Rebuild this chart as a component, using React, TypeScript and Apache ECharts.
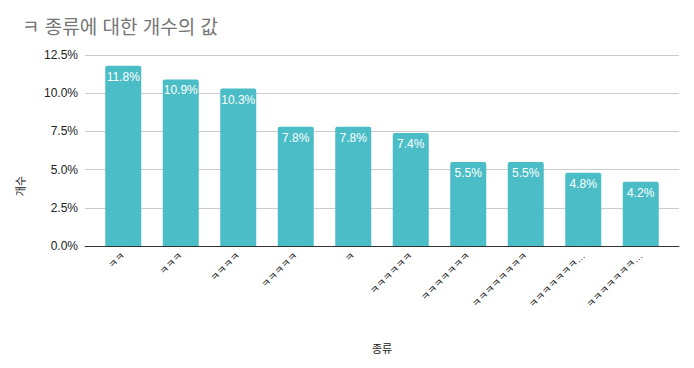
import React, { useEffect, useRef } from "react";
import * as echarts from "echarts";

const categories = [
  "ㅋㅋ",
  "ㅋㅋㅋ",
  "ㅋㅋㅋㅋ",
  "ㅋㅋㅋㅋㅋ",
  "ㅋ",
  "ㅋㅋㅋㅋㅋㅋ",
  "ㅋㅋㅋㅋㅋㅋㅋ",
  "ㅋㅋㅋㅋㅋㅋㅋㅋ",
  "ㅋㅋㅋㅋㅋㅋㅋㅋㅋ",
  "ㅋㅋㅋㅋㅋㅋㅋㅋㅋㅋ",
];
const values = [11.8, 10.9, 10.3, 7.8, 7.8, 7.4, 5.5, 5.5, 4.8, 4.2];
const yTicks = { min: 0, max: 12.5, interval: 2.5 };

const FONT = "'Liberation Sans', Arial, 'Noto Sans CJK KR', sans-serif";

export default function App() {
  const ref = useRef<HTMLDivElement>(null);
  useEffect(() => {
    document.body.style.margin = "0";
    const chart = echarts.init(ref.current!, null, { renderer: "svg" });
    chart.setOption({
      animation: false,
      backgroundColor: "#ffffff",
      textStyle: { fontFamily: FONT },
      title: {
        text: "ㅋ 종류에 대한 개수의 값",
        left: 17,
        top: 13,
        textStyle: { fontSize: 19, fontWeight: "normal", color: "#757575", fontFamily: FONT },
      },
      grid: [
        { left: 85, right: 15, top: 55, bottom: 122 },
        { left: 94.5, right: 24.5, top: 55, bottom: 122 },
      ],
      xAxis: [
        {
          type: "value",
          gridIndex: 0,
          min: 0,
          max: 1,
          axisLine: { show: true, lineStyle: { color: "#333333", width: 1 } },
          axisTick: { show: false },
          axisLabel: { show: false },
          splitLine: { show: false },
          name: "종류",
          nameLocation: "middle",
          nameGap: 97,
          nameTextStyle: { fontSize: 11, color: "#222222", fontFamily: FONT },
        },
        {
          type: "category",
          gridIndex: 1,
          data: categories,
          axisLine: { show: false },
          axisTick: { show: false },
          axisLabel: {
            rotate: 45,
            interval: 0,
            margin: 8,
            fontSize: 10,
            color: "#222222",
            fontFamily: FONT,
            formatter: (v: string) => (v.length > 8 ? v.slice(0, 7) + "…" : v),
          },
        },
      ],
      yAxis: [
        {
          type: "value",
          gridIndex: 0,
          ...yTicks,
          axisLine: { show: false },
          axisTick: { show: false },
          axisLabel: {
            margin: 7,
            fontSize: 12,
            color: "#222222",
            fontFamily: FONT,
            formatter: (v: number) => v.toFixed(1) + "%",
          },
          splitLine: { lineStyle: { color: "#cccccc", width: 1 } },
        },
        {
          type: "value",
          gridIndex: 1,
          ...yTicks,
          show: false,
          splitLine: { show: false },
        },
      ],
      graphic: [
        {
          type: "text",
          x: 15,
          y: 186,
          rotation: Math.PI / 2,
          style: {
            text: "개수",
            fontSize: 11,
            fill: "#222222",
            fontFamily: FONT,
            align: "center",
            verticalAlign: "top",
          },
        },
      ],
      series: [
        {
          type: "bar",
          xAxisIndex: 1,
          yAxisIndex: 1,
          data: values,
          barWidth: 36,
          itemStyle: { color: "#4bbdc6", borderRadius: [2, 2, 0, 0] },
          label: {
            show: true,
            position: "insideTop",
            distance: 5,
            color: "#ffffff",
            fontSize: 12,
            fontWeight: 500,
            fontFamily: FONT,
            formatter: (p: any) => p.value.toFixed(1) + "%",
          },
        },
      ],
    });
    return () => chart.dispose();
  }, []);
  return <div ref={ref} style={{ width: 694, height: 368 }} />;
}
